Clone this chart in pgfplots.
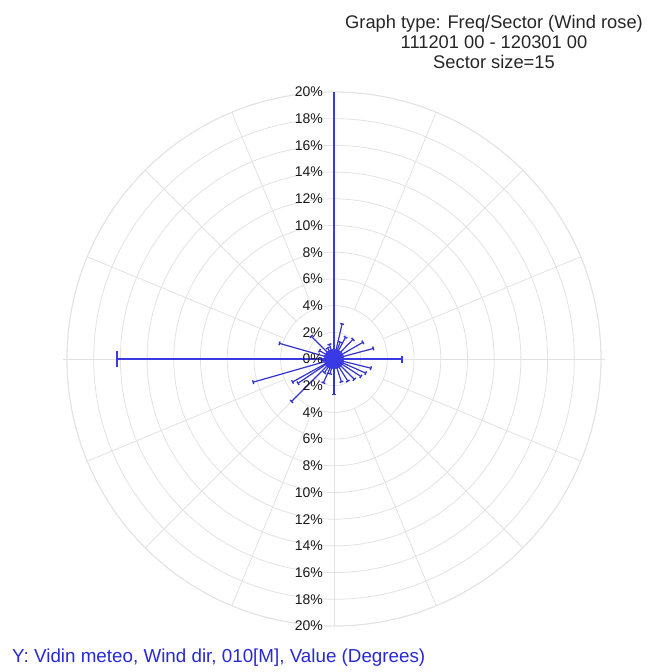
\documentclass[border=0pt]{standalone}
\usepackage{fontspec}
\setmainfont{Liberation Sans}
\usepackage{pgfplots}
\pgfplotsset{compat=1.18}
\usepgfplotslibrary{polar}
\usetikzlibrary{arrows.meta}

\definecolor{gridc}{RGB}{226,226,226}
\definecolor{spokemain}{RGB}{58,58,228}
\definecolor{spokedk}{RGB}{50,50,205}
\definecolor{lbl}{RGB}{40,40,215}

% angles are math angles (90 - compass direction), radius in %
\pgfplotsset{
  sp/.style={spokedk, line width=1.2pt, -{Bar[width=4pt,line width=1.4pt]}, forget plot},
  spmain/.style={spokemain, line width=1.8pt, forget plot},
}

\begin{document}
\begin{tikzpicture}
\path[use as bounding box] (-334pt,359pt) rectangle (317pt,-313pt);
\begin{polaraxis}[
  at={(0pt,0pt)}, anchor=center,
  width=534pt, height=534pt, scale only axis,
  xmin=0, xmax=360, ymin=0, ymax=20,
  xtick=\empty,
  ytick={2,4,...,20},
  y tick label style={opacity=0},
  ymajorgrids=true,
  major grid style={gridc, line width=0.8pt},
  axis line style={gridc, line width=0.8pt},
  major tick length=0pt,
  clip=false,
]
% grid spokes
\pgfplotsinvokeforeach{22.5,45,67.5,112.5,135,157.5,202.5,225,247.5,292.5,315,337.5}{
  \addplot[gridc, line width=0.8pt, forget plot] coordinates {(#1,4) (#1,20)};
}
\addplot[gridc, line width=0.8pt, forget plot] coordinates {(0,20.3) (180,20.3)};
\addplot[gridc, line width=0.8pt, forget plot] coordinates {(90,20) (270,20)};

% frequency per sector
\addplot[spmain] coordinates {(90,0) (90,20)};
\addplot[spmain, -{Bar[width=16pt,line width=1.8pt]}] coordinates {(180,0) (180,16.3)};
\addplot[spmain, -{Bar[width=7pt,line width=1.4pt]}] coordinates {(0,0) (0,5.15)};
\addplot[sp] coordinates {(-90,0) (-90,2.7)};
\addplot[sp] coordinates {(77,0) (77,2.75)};
\addplot[sp] coordinates {(70,0) (70,1.4)};
\addplot[sp] coordinates {(62,0) (62,1.9)};
\addplot[sp] coordinates {(46,0) (46,2.1)};
\addplot[sp] coordinates {(30,0) (30,2.55)};
\addplot[sp] coordinates {(15,0) (15,3.1)};
\addplot[sp] coordinates {(-14,0) (-14,2.9)};
\addplot[sp] coordinates {(-24,0) (-24,2.65)};
\addplot[sp] coordinates {(-33,0) (-33,2.45)};
\addplot[sp] coordinates {(-45,0) (-45,2.2)};
\addplot[sp] coordinates {(-58,0) (-58,2.0)};
\addplot[sp] coordinates {(-72,0) (-72,1.85)};
\addplot[sp] coordinates {(-105,0) (-105,1.2)};
\addplot[sp] coordinates {(-114,0) (-114,2.0)};
\addplot[sp] coordinates {(-125,0) (-125,1.3)};
\addplot[sp] coordinates {(-135,0) (-135,4.55)};
\addplot[sp] coordinates {(-146,0) (-146,3.3)};
\addplot[sp] coordinates {(-151,0) (-151,3.6)};
\addplot[sp] coordinates {(-164,0) (-164,6.35)};
\addplot[sp] coordinates {(-172,0) (-172,1.0)};
\addplot[sp] coordinates {(164,0) (164,4.3)};
\addplot[sp] coordinates {(150,0) (150,1.3)};
\addplot[sp] coordinates {(135,0) (135,2.45)};
\addplot[sp] coordinates {(120,0) (120,1.0)};
\addplot[sp] coordinates {(107,0) (107,1.2)};
\addplot[spokemain, only marks, mark=*, mark size=10pt, forget plot] coordinates {(0,0)};
\end{polaraxis}

% radial scale labels
\foreach \r in {2,4,...,20} {
  \pgfmathsetmacro\yy{\r*13.35}
  \node[anchor=east, inner sep=0pt, text=black!90, font=\fontsize{14}{16}\selectfont] at (-11pt,\yy pt) {\r\%};
  \node[anchor=east, inner sep=0pt, text=black!90, font=\fontsize{14}{16}\selectfont] at (-11pt,-\yy pt) {\r\%};
}
\node[anchor=east, inner sep=0pt, text=black!90, font=\fontsize{14}{16}\selectfont] at (-11pt,0pt) {0\%};

\node[align=center, text=black!85, font=\fontsize{18.3}{20}\selectfont] at (160pt,317pt)
  {Graph type: Freq/Sector (Wind rose)\\111201 00 - 120301 00\\Sector size=15};
\node[anchor=west, inner sep=0pt, text=lbl, font=\fontsize{18.8}{20}\selectfont] at (-322pt,-299pt)
  {Y: Vidin meteo, Wind dir, 010[M], Value (Degrees)};
\end{tikzpicture}
\end{document}
